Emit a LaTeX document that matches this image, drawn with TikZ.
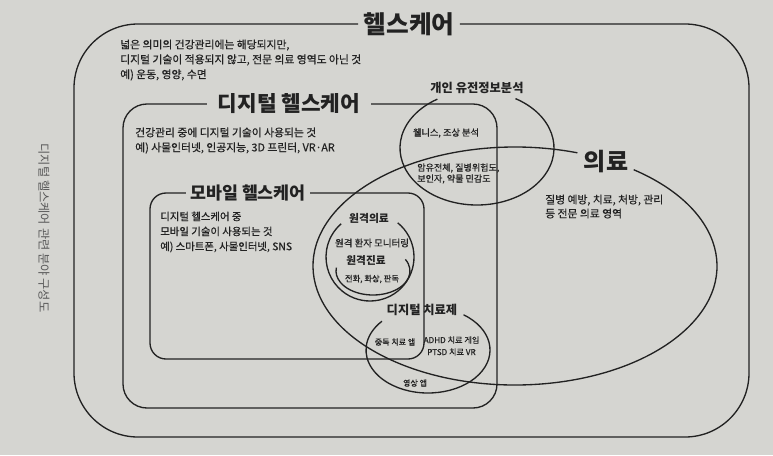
\documentclass[tikz,border=0pt]{standalone}
\usepackage{fontspec}
\setmainfont{Noto Sans CJK KR}
\newfontfamily\medfont{Noto Sans CJK KR}[FakeBold=0.6]
\usetikzlibrary{positioning}

\definecolor{paper}{RGB}{213,213,209}
\definecolor{ink}{RGB}{34,34,34}
\definecolor{sidegray}{RGB}{90,90,90}

\begin{document}
\begin{tikzpicture}[x=0.75pt, y=0.75pt,
        line/.style={draw=ink, line width=1pt},
        title/.style={font=\bfseries\fontsize{#1}{#1}\selectfont, text=ink, inner ysep=0pt, inner xsep=4pt},
        body/.style={font=\medfont\fontsize{#1}{11.2}\selectfont, text=ink, align=left, inner sep=0pt, anchor=west},
        tag/.style={font=\bfseries\fontsize{#1}{#1}\selectfont, text=ink, inner sep=0pt},
        note/.style={font=\medfont\fontsize{#1}{9}\selectfont, text=ink, align=center, inner sep=0pt}
    ]
    \fill[paper] (0,0) rectangle (773,455);
    \useasboundingbox (0,0) rectangle (773,455);

    % side caption
    \node[font=\fontsize{9.2}{9.2}\selectfont, text=sidegray, rotate=-90, inner sep=0pt] (caption) at (44,227) {디지털 헬스케어 관련 분야 구성도};

    % healthcare frame
    \node[title=18.5] (hc) at (409,431) {헬스케어};
    \draw[line, rounded corners=48pt] (hc.west) -- (74,431) -- (74,18) -- (749,18) -- (749,431) -- (hc.east);
    \node[body=8.1] (hctext) at (120,395) {넓은 의미의 건강관리에는 해당되지만,\\디지털 기술이 적용되지 않고, 전문 의료 영역도 아닌 것\\예) 운동, 영양, 수면};

    % digital healthcare frame
    \node[title=16, inner xsep=8pt] (dh) at (289,351) {디지털 헬스케어};
    \draw[line, rounded corners=18pt] (dh.west) -- (123,351) -- (123,47) -- (497,47) -- (497,351) -- (dh.east);
    \node[body=8.1] (dhtext) at (135,314.5) {건강관리 중에 디지털 기술이 사용되는 것\\예) 사물인터넷, 인공지능, 3D 프린터, VR·AR};

    % mobile healthcare frame
    \node[title=13, inner xsep=3pt] (mh) at (248,262) {모바일 헬스케어};
    \draw[line, rounded corners=12pt] (mh.west) -- (150,262) -- (150,96) -- (424,96) -- (424,262) -- (mh.east);
    \node[body=7.8] (mhtext) at (160,223) {디지털 헬스케어 중\\모바일 기술이 사용되는 것\\예) 스마트폰, 사물인터넷, SNS};

    % medical ellipse
    \coordinate (medc) at (515,189);
    \draw[line] (medc) ++(54:202 and 119) arc[start angle=54, end angle=-288, x radius=202, y radius=119];
    \node[tag=18] (med) at (606,293) {의료};
    \node[body=8.1, font=\medfont\fontsize{8.1}{10.5}\selectfont] (medtext) at (545,248.5) {질병 예방, 치료, 처방, 관리\\등 전문 의료 영역};

    % personal genome circle
    \coordinate (genc) at (477,307);
    \draw[line] (genc) ++(60:77 and 57) arc[start angle=60, end angle=-239, x radius=77, y radius=57];
    \node[tag=9.2] (gen) at (477,367) {개인 유전정보분석};
    \node[note=6.9] (wellness) at (446,322) {웰니스, 조상 분석};
    \node[body=6.8, font=\medfont\fontsize{6.8}{8.3}\selectfont] (genome) at (417,281.5) {암유전체, 질병위험도,\\보인자, 약물 민감도};

    % telemedicine circles
    \coordinate (remc) at (370,198);
    \draw[line] (remc) ++(51:44) arc[start angle=51, end angle=-229, radius=44];
    \node[tag=8.1] (rem) at (369,237) {원격의료};
    \node[note=7.1] (monitor) at (372,212) {원격 환자 모니터링};
    \coordinate (telc) at (373,184);
    \draw[line] (telc) ++(29:37 and 24) arc[start angle=29, end angle=-188, x radius=37, y radius=24];
    \node[tag=8] (tel) at (366,195) {원격진료};
    \node[note=6.2] (call) at (372,176) {전화, 화상, 판독};

    % digital therapeutics ellipse
    \coordinate (dtxc) at (428,105);
    \draw[line] (dtxc) ++(55:62 and 43) arc[start angle=55, end angle=-222, x radius=62, y radius=43];
    \node[tag=9.2] (dtx) at (422,145) {디지털 치료제};
    \node[note=6] (addict) at (395,113) {중독 치료 앱};
    \node[note=6.1] (adhd) at (451.5,109) {ADHD 치료 게임\\PTSD 치료 VR};
    \node[note=6] (video) at (415,72) {영상 앱};
\end{tikzpicture}
\end{document}
